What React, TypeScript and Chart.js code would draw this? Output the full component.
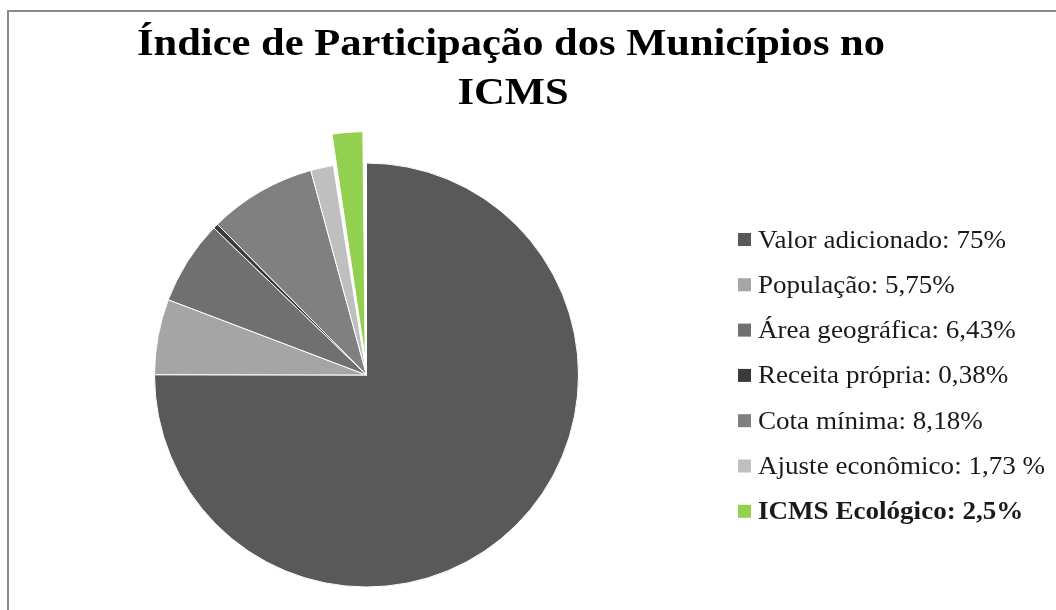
import React, { useEffect, useRef } from "react";
import { Chart, registerables } from "chart.js";

Chart.register(...registerables);

const TITLE_LINES = ["Índice de Participação dos Municípios no", "ICMS"];
const CATEGORIES = [
  "Valor adicionado: 75%",
  "População: 5,75%",
  "Área geográfica: 6,43%",
  "Receita própria: 0,38%",
  "Cota mínima: 8,18%",
  "Ajuste econômico: 1,73 %",
  "ICMS Ecológico: 2,5%",
];
const VALUES = [75, 5.75, 6.43, 0.38, 8.18, 1.73, 2.5];
const COLORS = ["#595959", "#a5a5a5", "#707070", "#3a3a3a", "#808080", "#bfbfbf", "#92d050"];
const OFFSETS = [0, 0, 0, 0, 0, 0, 68];
const BOLD_ITEMS = [false, false, false, false, false, false, true];

const FONT = "'Liberation Serif', 'Times New Roman', serif";

function stretchedText(ctx: CanvasRenderingContext2D, text: string, x: number, y: number, sx: number, align: "left" | "center") {
  ctx.save();
  ctx.translate(x, y);
  ctx.scale(sx, 1);
  ctx.textAlign = align;
  ctx.fillText(text, 0, 0);
  ctx.restore();
}

const overlayPlugin = {
  id: "overlay",
  afterDraw(chart: any) {
    const ctx = chart.ctx as CanvasRenderingContext2D;
    ctx.save();
    // Title
    ctx.fillStyle = "#000";
    ctx.textBaseline = "alphabetic";
    ctx.font = `bold 37px ${FONT}`;
    const tsx = 748 / ctx.measureText(TITLE_LINES[0]).width;
    stretchedText(ctx, TITLE_LINES[0], 511, 55, tsx, "center");
    stretchedText(ctx, TITLE_LINES[1], 513, 104, tsx, "center");
    // Legend
    const labels: string[] = chart.data.labels;
    const colors: string[] = chart.data.datasets[0].backgroundColor;
    ctx.font = `25px ${FONT}`;
    const lsx = 248 / ctx.measureText(labels[0]).width;
    labels.forEach((lab, i) => {
      const cy = 239.5 + i * 45.3;
      ctx.fillStyle = colors[i];
      ctx.fillRect(738, cy - 6.5, 13, 13);
      ctx.fillStyle = "#1a1a1a";
      ctx.font = `${BOLD_ITEMS[i] ? "bold " : ""}25px ${FONT}`;
      stretchedText(ctx, lab, 758, cy + 8, lsx, "left");
    });
    ctx.restore();
  },
};

export default function App() {
  const ref = useRef<HTMLCanvasElement | null>(null);
  useEffect(() => {
    if (!ref.current) return;
    const chart = new Chart(ref.current, {
      type: "pie",
      data: {
        labels: CATEGORIES,
        datasets: [
          {
            data: VALUES,
            backgroundColor: COLORS,
            borderColor: "#ffffff",
            borderWidth: 1,
            offset: OFFSETS,
          },
        ],
      },
      options: {
        animation: false,
        responsive: true,
        maintainAspectRatio: false,
        radius: 212,
        layout: { padding: { left: 0, right: 323, top: 140, bottom: 0 } },
        plugins: {
          legend: { display: false },
          title: { display: false },
          tooltip: { enabled: false },
        },
      } as any,
      plugins: [overlayPlugin],
    });
    return () => chart.destroy();
  }, []);
  return (
    <div style={{ position: "absolute", left: 0, top: 0, width: 1056, height: 610, background: "#fff", overflow: "hidden" }}>
      <div
        style={{
          position: "absolute",
          left: 7,
          top: 10,
          width: 1100,
          height: 700,
          borderLeft: "2px solid #8a8a8a",
          borderTop: "2px solid #8a8a8a",
        }}
      />
      <div style={{ position: "absolute", left: 0, top: 0, width: 1056, height: 610 }}>
        <canvas ref={ref} />
      </div>
    </div>
  );
}
